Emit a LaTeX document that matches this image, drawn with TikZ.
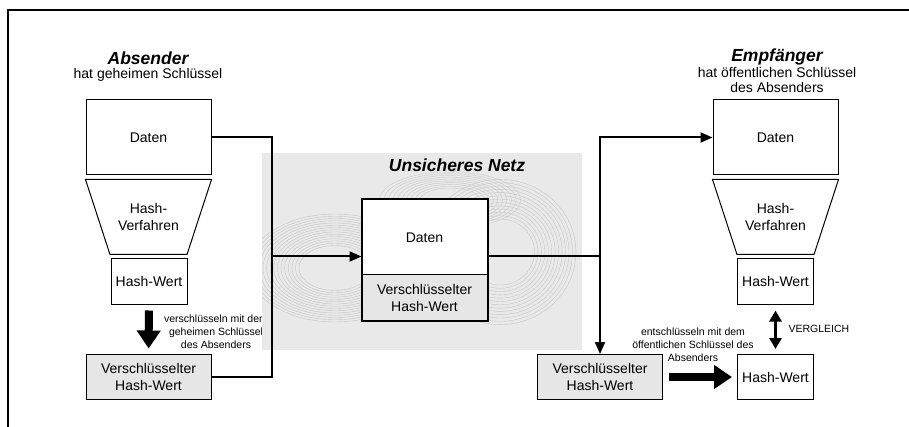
\documentclass[tikz,border=0pt]{standalone}
\usepackage{fontspec}
\setmainfont{Liberation Sans}
\usepackage{xcolor}
\usetikzlibrary{positioning, calc, arrows.meta}

\definecolor{boxgray}{RGB}{230,230,230}
\definecolor{netgray}{RGB}{233,233,233}

\begin{document}
\begin{tikzpicture}[x=1pt, y=-1pt,
    box/.style={draw, line width=1pt, minimum width=125pt, minimum height=75pt, inner sep=0pt,
                align=center, font=\fontsize{14}{17}\selectfont},
    hashbox/.style={box, minimum width=76pt, minimum height=45pt},
    cryptbox/.style={box, fill=boxgray, minimum height=45pt},
    funnel/.style={box, draw=none, minimum height=74pt},
    title/.style={font=\fontsize{17.5}{20}\selectfont\bfseries\itshape},
    sub/.style={align=center, font=\fontsize{14}{15.5}\selectfont},
    small/.style={align=center, font=\fontsize{10.5}{13}\selectfont},
    conn/.style={line width=2pt},
    tip/.style={-{Triangle[length=12pt,width=10pt]}},
    fat/.style={line width=8pt, -{Triangle[length=18pt,width=23pt]}, shorten <=6pt, shorten >=5pt}
  ]
  \useasboundingbox (0,0) rectangle (909,427);
  \draw[line width=2.5pt] (8,427) -- (8,10) -- (909,10);

  % Absender
  \node[title] (absTitle) at (148,58) {Absender};
  \node[sub] (absKey) at (148,75) {hat geheimen Schlüssel};
  \node[box] (datenA) at (148.5,137.5) {Daten};
  \node[funnel] (hashA) at (148.5,217) {Hash-\\Verfahren};
  \draw[line width=1pt] (hashA.north west) -- (hashA.north east)
    -- ($(hashA.south east)+(-24.5,0)$) -- ($(hashA.south west)+(24.5,0)$) -- cycle;
  \node[hashbox] (wertA) at (149,281.5) {Hash-Wert};
  \node[cryptbox] (cryptA) at (148.5,376.5) {Verschlüsselter\\Hash-Wert};
  \draw[fat] (wertA) -- (cryptA);
  \node[small] (encLabel) at (216,331.5) {verschlüsseln mit dem\\geheimen Schlüssel\\des Absenders};

  % Unsicheres Netz
  \fill[netgray] (262,153) rectangle (582,350);
  \begin{scope}
    \clip (262,153) rectangle (582,350);
    \foreach \r in {30,33,...,72}
      \draw[gray!45, line width=0.4pt] (335,268) ellipse ({1.2*\r} and {0.75*\r});
    \foreach \r in {30,33,...,66}
      \draw[gray!45, line width=0.4pt] (500,252) ellipse ({1.15*\r} and {1.1*\r});
    \foreach \r in {20,23,...,47}
      \draw[gray!40, line width=0.4pt] (450,200) ellipse ({1.5*\r} and {0.6*\r});
  \end{scope}
  \node[title] (netTitle) at (457,165) {Unsicheres Netz};
  \node[box, fill=white] (netDaten) at (424.5,237.5) {Daten};
  \node[cryptbox] (netCrypt) at (424.5,297.5) {Verschlüsselter\\Hash-Wert};
  \draw[line width=2pt] (netDaten.north west) rectangle (netCrypt.south east);

  % Empfaenger
  \node[title] (empTitle) at (777,57) {Empfänger};
  \node[sub] (empKey) at (777,80) {hat öffentlichen Schlüssel\\des Absenders};
  \node[box] (datenB) at (775.5,137.5) {Daten};
  \node[funnel] (hashB) at (775.5,217) {Hash-\\Verfahren};
  \draw[line width=1pt] (hashB.north west) -- (hashB.north east)
    -- ($(hashB.south east)+(-24.5,0)$) -- ($(hashB.south west)+(24.5,0)$) -- cycle;
  \node[hashbox] (wertB) at (775.5,281.5) {Hash-Wert};
  \node[hashbox] (wertC) at (775.5,377) {Hash-Wert};
  \node[cryptbox] (cryptB) at (600,377) {Verschlüsselter\\Hash-Wert};
  \draw[line width=3pt, {Triangle[length=11pt,width=12pt]}-{Triangle[length=11pt,width=12pt]},
        shorten <=6pt, shorten >=5pt] (wertB) -- (wertC);
  \node[small, anchor=west] (cmpLabel) at (785,329) {VERGLEICH};
  \draw[fat] (cryptB) -- (wertC);
  \node[small] (decLabel) at (693,344.5) {entschlüsseln mit dem\\öffentlichen Schlüssel des\\Absenders};

  % Verbindungen
  \coordinate (busA) at (272,256.5);
  \coordinate (busB) at (600,256.5);
  \draw[conn] (datenA.east) -| (busA) |- (cryptA.east);
  \draw[conn, tip] (busA) -- (busA -| netDaten.west);
  \draw[conn] (busA -| netDaten.east) -- (busB);
  \draw[conn, tip] (busB) |- (datenB.west);
  \draw[conn, tip] (busB) -- (cryptB.north);
\end{tikzpicture}
\end{document}
